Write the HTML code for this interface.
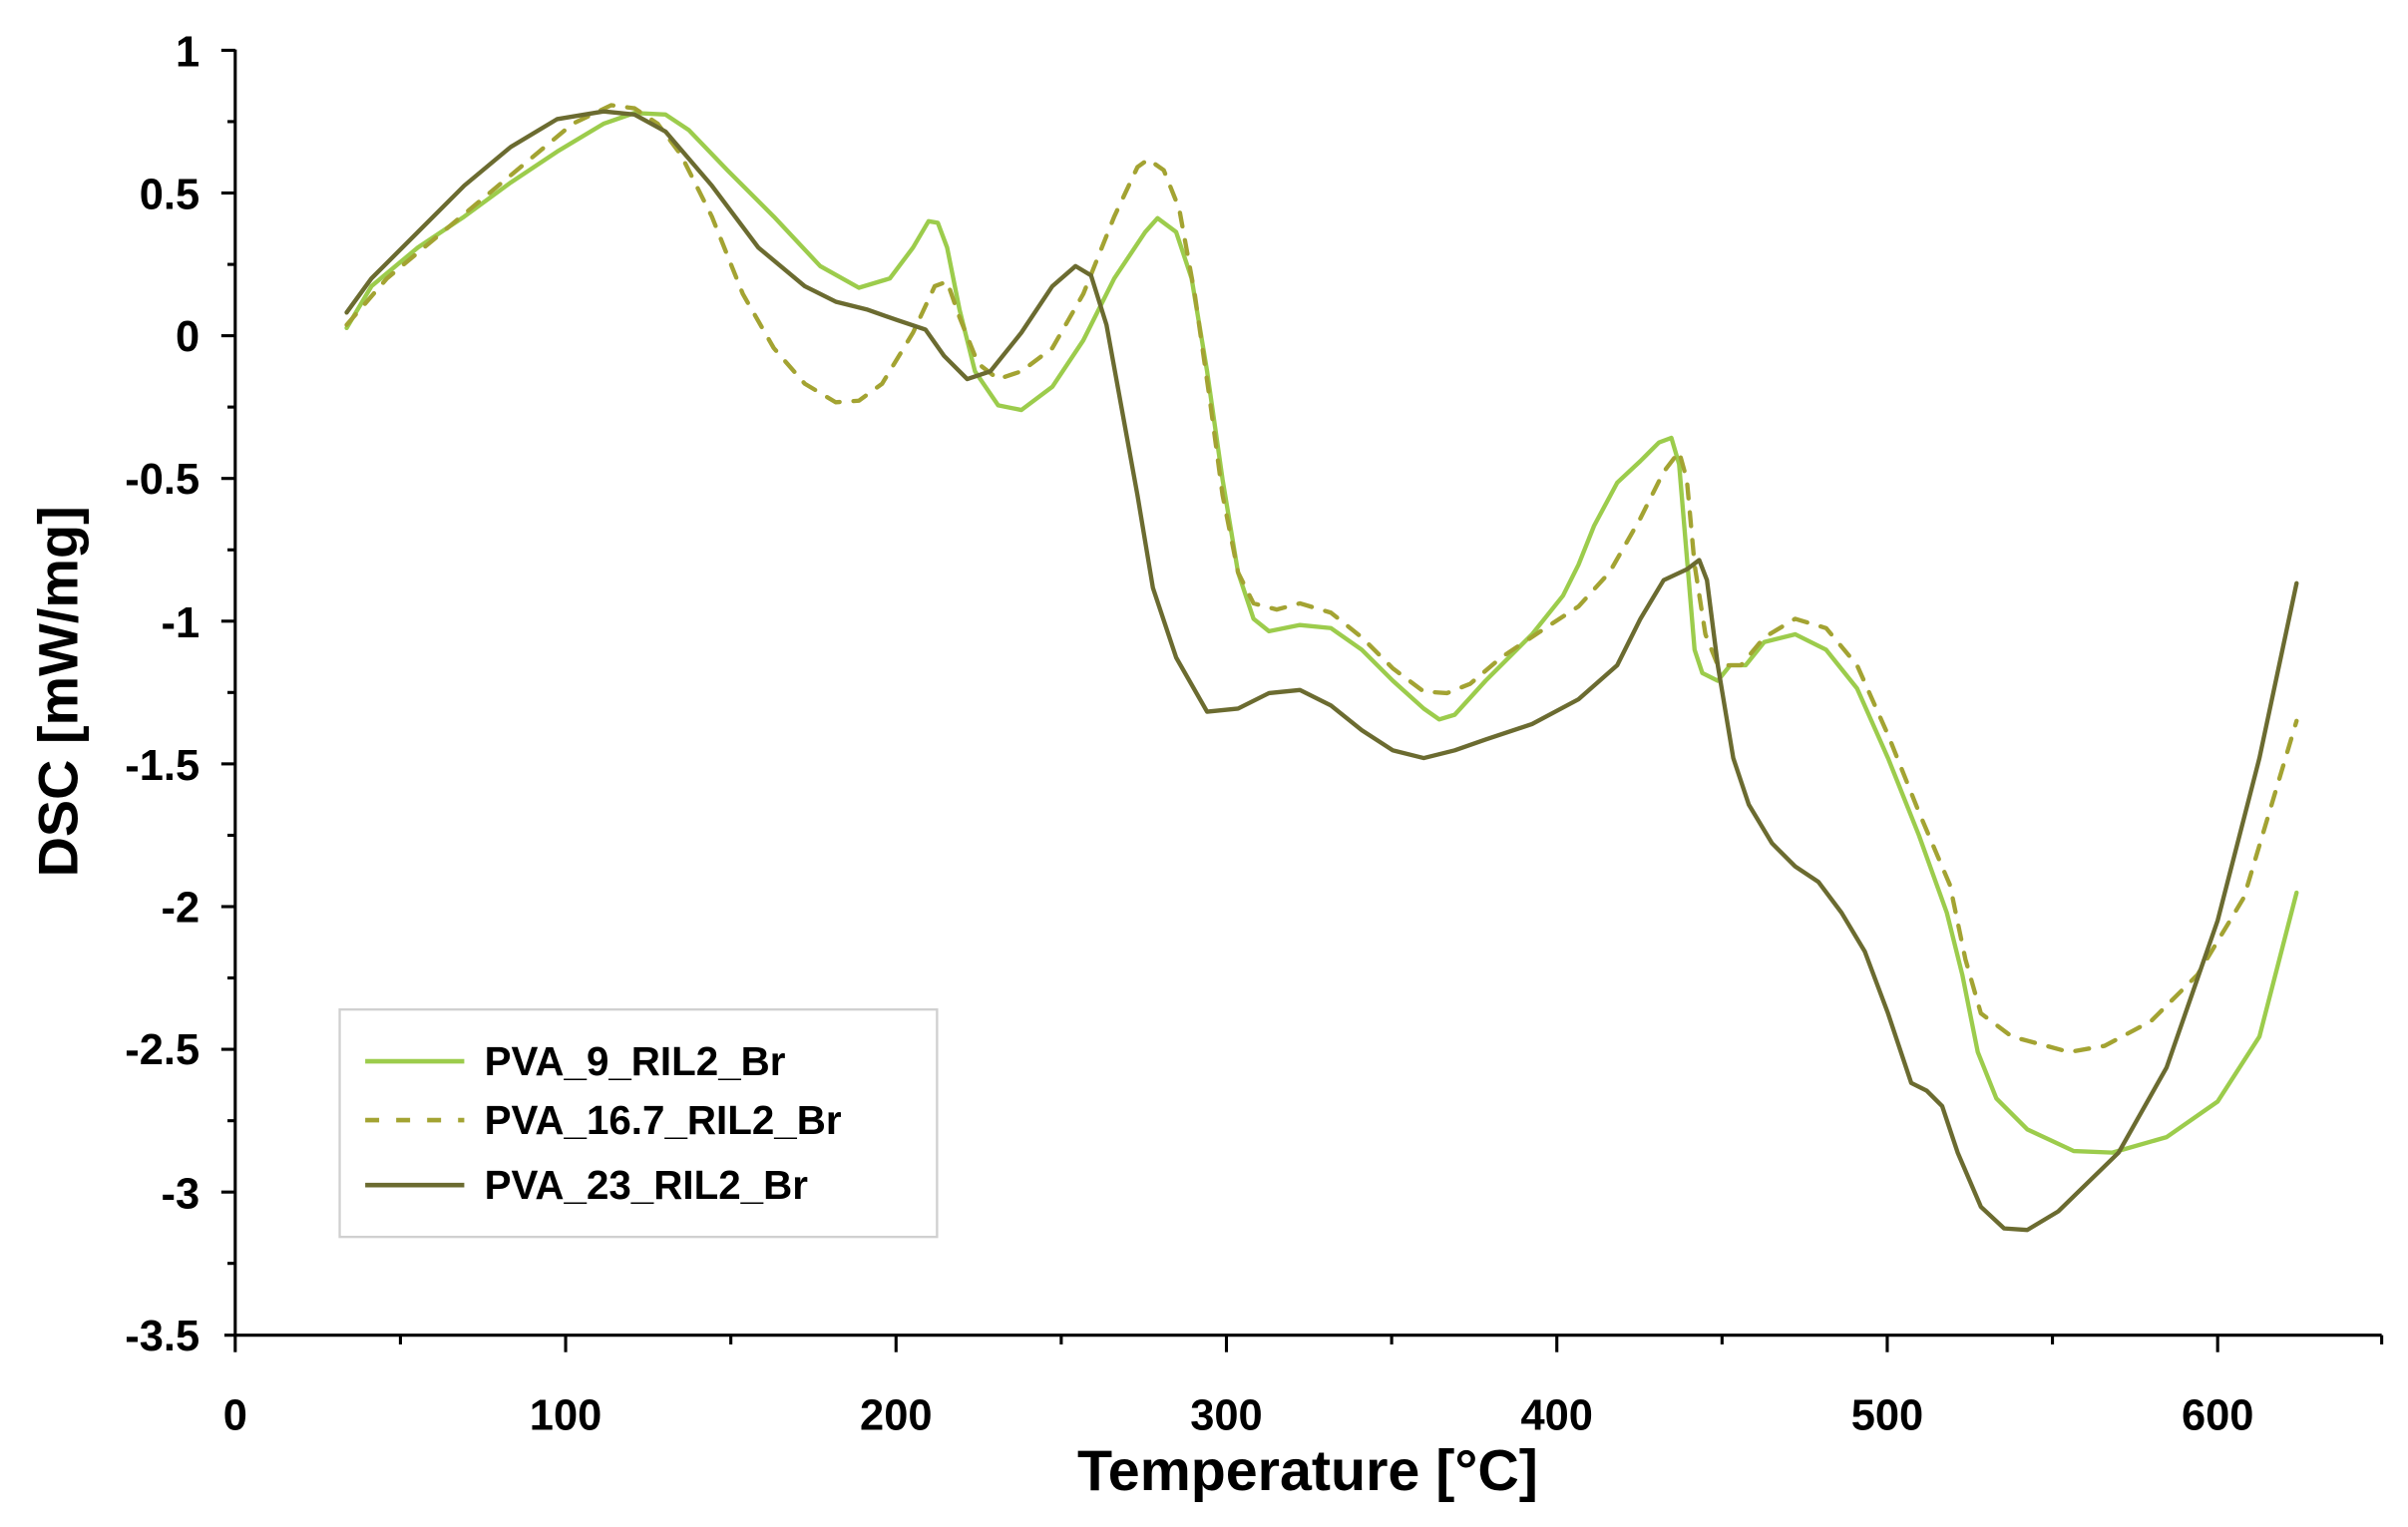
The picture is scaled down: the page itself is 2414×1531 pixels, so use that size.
<!DOCTYPE html>
<html><head><meta charset="utf-8"><style>html,body{margin:0;padding:0;background:#fff}svg{display:block}</style></head>
<body>
<svg width="2414" height="1531" viewBox="0 0 1556 987" preserveAspectRatio="none" xmlns="http://www.w3.org/2000/svg" font-family="Liberation Sans, Arial, sans-serif" font-weight="bold">
<g stroke="#000" stroke-width="2" fill="none">
<line x1="152" y1="32" x2="152" y2="864"/>
<line x1="145" y1="863" x2="1539" y2="863"/>
<line x1="143" y1="32.5" x2="152" y2="32.5"/><line x1="143" y1="124.75" x2="152" y2="124.75"/><line x1="143" y1="217" x2="152" y2="217"/><line x1="143" y1="309.25" x2="152" y2="309.25"/><line x1="143" y1="401.5" x2="152" y2="401.5"/><line x1="143" y1="493.75" x2="152" y2="493.75"/><line x1="143" y1="586" x2="152" y2="586"/><line x1="143" y1="678.25" x2="152" y2="678.25"/><line x1="143" y1="770.5" x2="152" y2="770.5"/>
<line x1="147" y1="78.6" x2="152" y2="78.6"/><line x1="147" y1="170.9" x2="152" y2="170.9"/><line x1="147" y1="263.1" x2="152" y2="263.1"/><line x1="147" y1="355.4" x2="152" y2="355.4"/><line x1="147" y1="447.6" x2="152" y2="447.6"/><line x1="147" y1="539.9" x2="152" y2="539.9"/><line x1="147" y1="632.1" x2="152" y2="632.1"/><line x1="147" y1="724.4" x2="152" y2="724.4"/><line x1="147" y1="816.6" x2="152" y2="816.6"/>
<line x1="152" y1="863" x2="152" y2="874"/><line x1="365.5" y1="863" x2="365.5" y2="874"/><line x1="579" y1="863" x2="579" y2="874"/><line x1="792.5" y1="863" x2="792.5" y2="874"/><line x1="1006" y1="863" x2="1006" y2="874"/><line x1="1219.5" y1="863" x2="1219.5" y2="874"/><line x1="1433" y1="863" x2="1433" y2="874"/>
<line x1="258.75" y1="863" x2="258.75" y2="869"/><line x1="472.25" y1="863" x2="472.25" y2="869"/><line x1="685.75" y1="863" x2="685.75" y2="869"/><line x1="899.25" y1="863" x2="899.25" y2="869"/><line x1="1112.75" y1="863" x2="1112.75" y2="869"/><line x1="1326.25" y1="863" x2="1326.25" y2="869"/><line x1="1539" y1="863" x2="1539" y2="869"/>
</g>
<g font-size="28" text-anchor="end" fill="#000">
<text x="129" y="43">1</text><text x="129" y="135">0.5</text><text x="129" y="227">0</text><text x="129" y="319">-0.5</text><text x="129" y="412">-1</text><text x="129" y="504">-1.5</text><text x="129" y="596">-2</text><text x="129" y="688">-2.5</text><text x="129" y="781">-3</text><text x="129" y="873">-3.5</text>
</g>
<g font-size="28" text-anchor="middle" fill="#000">
<text x="152" y="924">0</text><text x="365.5" y="924">100</text><text x="579" y="924">200</text><text x="792.5" y="924">300</text><text x="1006" y="924">400</text><text x="1219.5" y="924">500</text><text x="1433" y="924">600</text>
</g>
<text x="845" y="963" font-size="37" text-anchor="middle">Temperature [°C]</text>
<text transform="translate(50,447) rotate(-90)" font-size="36" text-anchor="middle">DSC [mW/mg]</text>
<g fill="none" stroke-width="2.8" stroke-linejoin="round" stroke-linecap="round">
<polyline stroke="#9ccc4c" points="224,212 240,185 270,160 300,140 330,118 360,98 390,80 410,73 430,74 445,84 470,110 500,140 530,172 555,186 575,180 590,160 600,143 606,144 612,160 620,200 630,240 645,262 660,265 680,250 700,220 720,180 740,150 748,141 760,150 770,180 780,240 790,310 800,370 810,400 820,408 840,404 860,406 880,420 900,440 920,458 930,465 940,462 960,440 990,410 1010,385 1020,365 1030,340 1045,312 1060,298 1072,286 1080,283 1085,300 1090,360 1095,420 1100,435 1110,440 1118,430 1128,430 1140,415 1160,410 1180,420 1200,445 1220,490 1240,540 1258,590 1268,630 1278,680 1290,710 1310,730 1340,744 1365,745 1400,735 1433,712 1460,670 1484,577"/>
<polyline stroke="#a3a332" stroke-dasharray="9,9" points="224,210 250,180 280,155 310,130 340,105 370,80 395,68 410,70 425,80 440,100 460,140 480,190 500,225 520,248 540,260 555,259 570,248 590,215 604,185 612,182 620,205 632,235 645,245 660,240 680,225 700,190 720,140 735,108 742,103 752,110 762,135 772,190 782,260 790,320 800,370 810,390 825,394 840,390 860,396 880,412 900,432 920,447 935,448 950,442 970,425 1000,405 1020,392 1040,370 1060,335 1075,305 1085,292 1090,310 1095,365 1102,410 1110,430 1125,430 1140,412 1160,400 1180,406 1200,430 1220,475 1240,525 1260,572 1270,620 1280,655 1300,670 1337,680 1360,676 1390,660 1420,630 1450,580 1484,466"/>
<polyline stroke="#6b6b30" points="224,202 240,180 270,150 300,120 330,95 360,77 390,72 410,74 430,85 460,120 490,160 520,185 540,195 560,200 580,207 598,213 610,230 625,245 640,240 660,215 680,185 695,172 705,178 715,210 725,265 735,320 745,380 760,425 780,460 800,458 820,448 840,446 860,456 880,472 900,485 920,490 940,485 960,478 990,468 1020,452 1045,430 1060,400 1075,375 1090,368 1098,362 1103,375 1110,430 1120,490 1130,520 1145,545 1160,560 1175,570 1190,590 1205,615 1220,655 1235,700 1245,705 1255,715 1265,745 1280,780 1295,794 1310,795 1330,783 1369,745 1400,690 1433,595 1460,490 1484,377"/>
</g>
<rect x="219.5" y="652.5" width="386" height="147" fill="#fff" stroke="#d0d0d0" stroke-width="1.5"/>
<line x1="236" y1="686" x2="300" y2="686" stroke="#9ccc4c" stroke-width="3"/>
<line x1="236" y1="724" x2="300" y2="724" stroke="#a3a332" stroke-width="3" stroke-dasharray="9,11"/>
<line x1="236" y1="766" x2="300" y2="766" stroke="#6b6b30" stroke-width="3"/>
<g font-size="26" fill="#000">
<text x="313" y="695">PVA_9_RIL2_Br</text>
<text x="313" y="733">PVA_16.7_RIL2_Br</text>
<text x="313" y="775">PVA_23_RIL2_Br</text>
</g>
</svg>
</body></html>
